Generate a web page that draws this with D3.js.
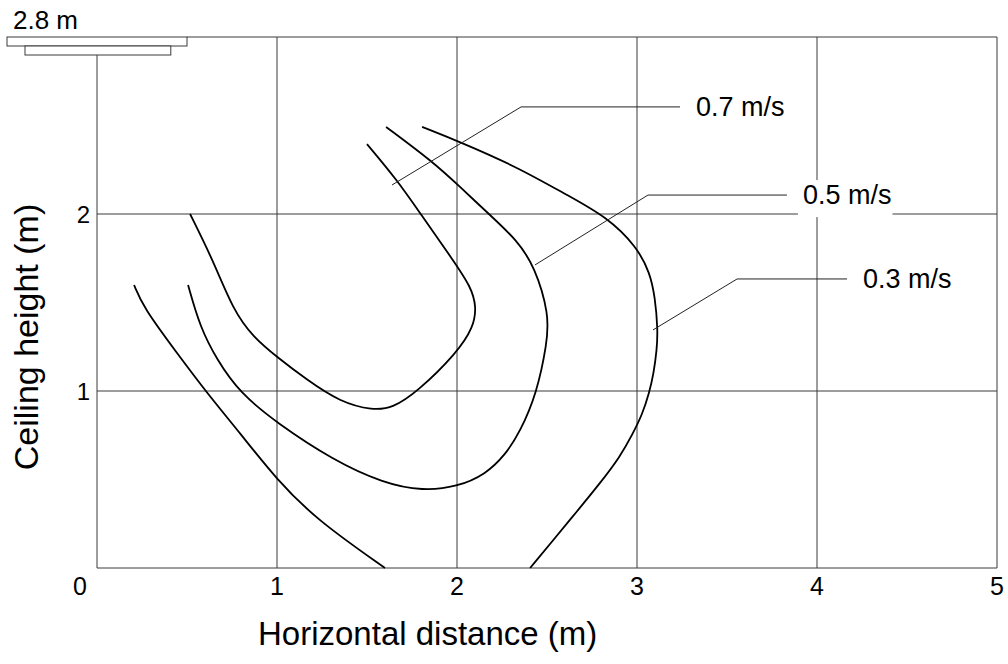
<!DOCTYPE html>
<html>
<head>
<meta charset="utf-8">
<script src="https://cdn.jsdelivr.net/npm/d3@7"></script>
<style>
  body { margin: 0; background: #fff; }
  text { font-family: "Liberation Sans", Arial, Helvetica, sans-serif; fill: #000; }
</style>
</head>
<body>
<div id="chart"></div>
<script>
// air velocity contours, x = horizontal distance (m), y = ceiling height (m)
var xTicks = [0, 1, 2, 3, 4, 5];
var yTicks = [1, 2];

var curve07 = [[0.517,2.0],[0.644,1.74],[0.756,1.458],[0.867,1.305],[1.0,1.192],[1.167,1.062],
  [1.35,0.938],[1.533,0.89],[1.644,0.905],[1.778,0.994],[2.0,1.215],[2.092,1.362],[2.108,1.475],
  [2.078,1.588],[1.978,1.74],[1.794,2.006],[1.667,2.192],[1.5,2.395]];

var curve05 = [[0.506,1.599],[0.572,1.362],[0.667,1.175],[0.794,0.989],[1.0,0.819],[1.311,0.61],
  [1.589,0.48],[1.811,0.435],[2.0,0.458],[2.16,0.53],[2.267,0.638],[2.35,0.768],[2.444,0.989],
  [2.5,1.271],[2.512,1.429],[2.433,1.701],[2.333,1.853],[2.183,1.994],[2.017,2.153],[1.867,2.294],
  [1.606,2.492]];

var curve03a = [[0.206,1.599],[0.256,1.475],[0.444,1.215],[0.611,0.989],[0.794,0.763],
  [1.0,0.497],[1.222,0.271],[1.6,0.0]];

var curve03b = [[1.806,2.492],[2.017,2.407],[2.333,2.266],[2.611,2.107],[2.833,1.983],[3.0,1.814],
  [3.072,1.667],[3.1,1.531],[3.116,1.345],[3.11,1.232],[3.093,1.102],[3.067,0.985],[3.03,0.87],
  [2.975,0.755],[2.906,0.629],[2.794,0.478],[2.665,0.318],[2.535,0.158],[2.406,0.0]];

// label: name, leader start, elbow, end of leader
var labels = [
  { name: "0.7 m/s", from: [1.639, 2.164], elbow: [2.356, 2.605], to: [3.239, 2.605] },
  { name: "0.5 m/s", from: [2.433, 1.712], elbow: [3.061, 2.107], to: [3.833, 2.107] },
  { name: "0.3 m/s", from: [3.089, 1.345], elbow: [3.556, 1.633], to: [4.167, 1.633] }
];

var width = 1008;
var height = 664;

var x = d3.scaleLinear().domain([0, 5]).range([97, 997]);
var y = d3.scaleLinear().domain([0, 3]).range([568, 37]);

var svg = d3.select("#chart").append("svg")
    .attr("width", width)
    .attr("height", height);

var gridColor = "#3a3a3a";

// vertical grid
svg.selectAll(".vgrid")
    .data([1, 2, 3, 4])
    .enter().append("line")
    .attr("x1", function(d) { return x(d); })
    .attr("x2", function(d) { return x(d); })
    .attr("y1", y(3))
    .attr("y2", y(0))
    .attr("stroke", gridColor)
    .attr("stroke-width", 1);

// horizontal grid
svg.selectAll(".hgrid")
    .data(yTicks)
    .enter().append("line")
    .attr("x1", x(0))
    .attr("x2", x(5))
    .attr("y1", function(d) { return y(d); })
    .attr("y2", function(d) { return y(d); })
    .attr("stroke", gridColor)
    .attr("stroke-width", 1);

// frame
svg.append("line").attr("x1", x(0)).attr("x2", x(5)).attr("y1", y(0)).attr("y2", y(0))
    .attr("stroke", gridColor);
svg.append("line").attr("x1", x(5)).attr("x2", x(5)).attr("y1", y(3)).attr("y2", y(0))
    .attr("stroke", gridColor);
svg.append("line").attr("x1", x(0.5)).attr("x2", x(5)).attr("y1", y(3)).attr("y2", y(3))
    .attr("stroke", gridColor);
svg.append("line").attr("x1", x(0)).attr("x2", x(0)).attr("y1", y(3) + 18).attr("y2", y(0))
    .attr("stroke", gridColor);

// ceiling unit
svg.append("rect")
    .attr("x", x(-0.5)).attr("y", y(3))
    .attr("width", x(0.5) - x(-0.5)).attr("height", 9)
    .attr("fill", "#fff").attr("stroke", gridColor);
svg.append("rect")
    .attr("x", x(-0.4)).attr("y", y(3) + 9)
    .attr("width", x(0.41) - x(-0.4)).attr("height", 9)
    .attr("fill", "#fff").attr("stroke", gridColor);
svg.append("text")
    .attr("x", 13).attr("y", 29)
    .attr("font-size", "26px")
    .text("2.8 m");

// contours
var line = d3.line()
    .x(function(d) { return x(d[0]); })
    .y(function(d) { return y(d[1]); })
    .curve(d3.curveBasis);

svg.selectAll(".contour")
    .data([curve07, curve05, curve03a, curve03b])
    .enter().append("path")
    .attr("d", line)
    .attr("fill", "none")
    .attr("stroke", "#000")
    .attr("stroke-width", 1.8);

// leaders
svg.selectAll(".leader")
    .data(labels)
    .enter().append("polyline")
    .attr("points", function(d) {
        return [d.from, d.elbow, d.to].map(function(p) { return x(p[0]) + "," + y(p[1]); }).join(" ");
    })
    .attr("fill", "none")
    .attr("stroke", "#222")
    .attr("stroke-width", 1);

var lab = svg.selectAll(".lab")
    .data(labels)
    .enter().append("g");

var labText = lab.append("text")
    .attr("x", function(d) { return x(d.to[0]) + 16; })
    .attr("y", function(d) { return y(d.to[1]) + 9; })
    .attr("font-size", "27px")
    .text(function(d) { return d.name; });

labText.each(function() {
    var b = this.getBBox();
    d3.select(this.parentNode).insert("rect", "text")
        .attr("x", b.x - 5)
        .attr("y", b.y)
        .attr("width", b.width + 6)
        .attr("height", b.height + 7)
        .attr("fill", "#fff");
});

// tick labels
svg.selectAll(".xtick")
    .data(xTicks)
    .enter().append("text")
    .attr("x", function(d) { return d === 0 ? x(d) - 17 : x(d); })
    .attr("y", 595)
    .attr("text-anchor", "middle")
    .attr("font-size", "25px")
    .text(function(d) { return d; });

svg.selectAll(".ytick")
    .data(yTicks)
    .enter().append("text")
    .attr("x", 90)
    .attr("y", function(d) { return y(d) + 9; })
    .attr("text-anchor", "end")
    .attr("font-size", "24px")
    .text(function(d) { return d; });

// axis titles
svg.append("text")
    .attr("x", 258).attr("y", 645)
    .attr("font-size", "33px")
    .text("Horizontal distance (m)");

svg.append("text")
    .attr("transform", "translate(38,337) rotate(-90)")
    .attr("text-anchor", "middle")
    .attr("font-size", "34px")
    .text("Ceiling height (m)");
</script>
</body>
</html>
